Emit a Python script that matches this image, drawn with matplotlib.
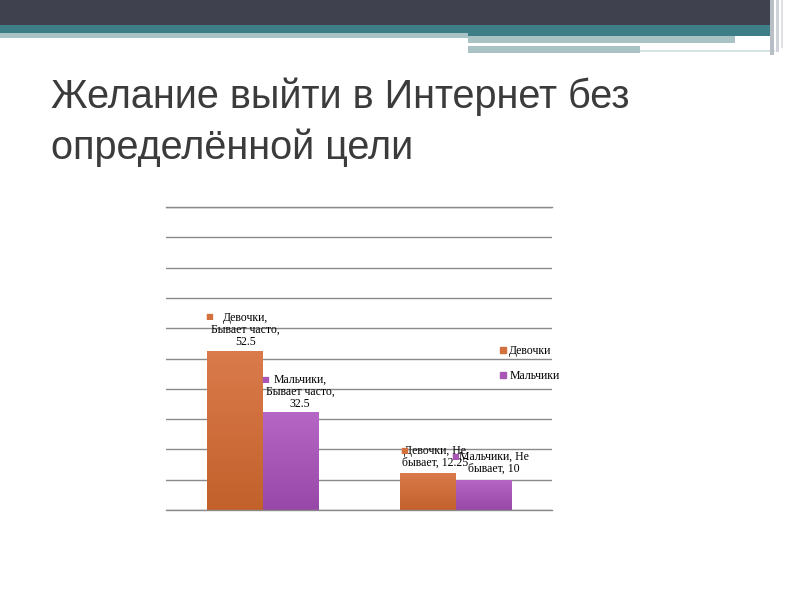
import matplotlib.pyplot as plt
import numpy as np
from matplotlib.lines import Line2D
from matplotlib.patches import Rectangle
from matplotlib.colors import LinearSegmentedColormap

# data
categories = ['Бывает часто', 'Не бывает']
series = ['Девочки', 'Мальчики']
girls = [52.5, 12.25]
boys = [32.5, 10]
title = 'Желание выйти в Интернет без\nопределённой цели'

girls_color = '#d2703e'
boys_color = '#a855b6'
girls_grad = ['#da7b4c', '#c3612b']   # top -> bottom
boys_grad = ['#b667c5', '#9848a8']

W, H = 794, 595
fig = plt.figure(figsize=(W / 100, H / 100), dpi=100)
fig.patch.set_facecolor('white')

# slide header decoration
bg = fig.add_axes([0, 0, 1, 1], zorder=0)
bg.set_xlim(0, W)
bg.set_ylim(H, 0)
bg.axis('off')
bands = [
    (0, 0, 770, 25, '#40414f'),
    (0, 25, 770, 8, '#3c7d86'),
    (468, 33, 302, 3, '#3c7d86'),
    (0, 33, 468, 5, '#a9c3c5'),
    (468, 36, 267, 7, '#a9c3c5'),
    (468, 46, 172, 7, '#a9c3c5'),
    (640, 50, 135, 2, '#d6e2e3'),
    (770, 0, 4, 55, '#b9bdc6'),
    (776, 0, 3, 52, '#cfd2d8'),
    (781, 0, 2, 48, '#dfe1e5'),
]
for x, y, w, h, c in bands:
    bg.add_patch(Rectangle((x, y), w, h, color=c, lw=0))

fig.text(51 / W, 1 - 78 / H, title, ha='left', va='top', fontsize=28.5,
         color='#3b3b3b', family=['Liberation Sans', 'DejaVu Sans'],
         linespacing=1.4)

# chart
ax = fig.add_axes([166 / W, 85 / H, 386 / W, 303 / H], zorder=1)
ax.patch.set_alpha(0)
x = np.arange(len(categories))
width = 0.2875

ax.set_yticks(np.arange(0, 101, 10))
ax.grid(axis='y', color='#8a8a8a', lw=1.0)
ax.set_axisbelow(True)
ax.tick_params(left=False, bottom=False, labelleft=False, labelbottom=False)
for s in ax.spines.values():
    s.set_visible(False)

b1 = ax.bar(x - width / 2, girls, width, color=girls_color, label=series[0], zorder=2)
b2 = ax.bar(x + width / 2, boys, width, color=boys_color, label=series[1], zorder=2)

# vertical gradient fill on bars
grad = np.linspace(0, 1, 100).reshape(-1, 1)
for bars, cols in ((b1, girls_grad), (b2, boys_grad)):
    cmap = LinearSegmentedColormap.from_list('g', cols)
    for r in bars:
        x0, y0 = r.get_x(), r.get_y()
        im = ax.imshow(grad, cmap=cmap, aspect='auto', zorder=2.5, origin='upper',
                       extent=[x0, x0 + r.get_width(), y0, y0 + r.get_height()])
        im.set_clip_path(r)
ax.set_xlim(-0.5, 1.5)
ax.set_ylim(0, 100)
ax.axhline(0, color='#8a8a8a', lw=1.0, clip_on=False, zorder=3)
ax.axhline(100, color='#8a8a8a', lw=1.0, clip_on=False, zorder=1)

# data labels
labels = [
    'Девочки,\nБывает часто,\n52.5',
    'Мальчики,\nБывает часто,\n32.5',
    'Девочки, Не\nбывает, 12.25',
    'Мальчики, Не\nбывает, 10',
]
bars = [b1[0], b2[0], b1[1], b2[1]]
colors = [girls_color, boys_color, girls_color, boys_color]
text_off = [(11, 3), (10, 2), (7, 4), (11, 5)]
mark_off = [(-26, 34), (-25, 32), (-24, 22), (-28, 23)]
serif = ['Liberation Serif', 'DejaVu Serif']
for r, lab, c, to, mo in zip(bars, labels, colors, text_off, mark_off):
    xc = r.get_x() + r.get_width() / 2
    yt = r.get_height()
    ax.annotate(lab, (xc, yt), xytext=to, textcoords='offset pixels',
                ha='center', va='bottom', multialignment='center',
                fontsize=8.5, family=serif, linespacing=1.0, zorder=4)
    ax.annotate('■', (xc, yt), xytext=mo, textcoords='offset pixels',
                ha='center', va='center', fontsize=6, color=c, zorder=4)

handles = [Line2D([], [], marker='s', ls='none', ms=4.5, color=girls_color),
           Line2D([], [], marker='s', ls='none', ms=4.5, color=boys_color)]
fig.legend(handles, series, loc='upper left',
           bbox_to_anchor=(494 / W, 1 - 339 / H), frameon=False,
           handlelength=0.5, handletextpad=0.3, labelspacing=1.1,
           borderpad=0, prop={'family': serif, 'size': 8.5})

fig.savefig('out.png', dpi=100)
